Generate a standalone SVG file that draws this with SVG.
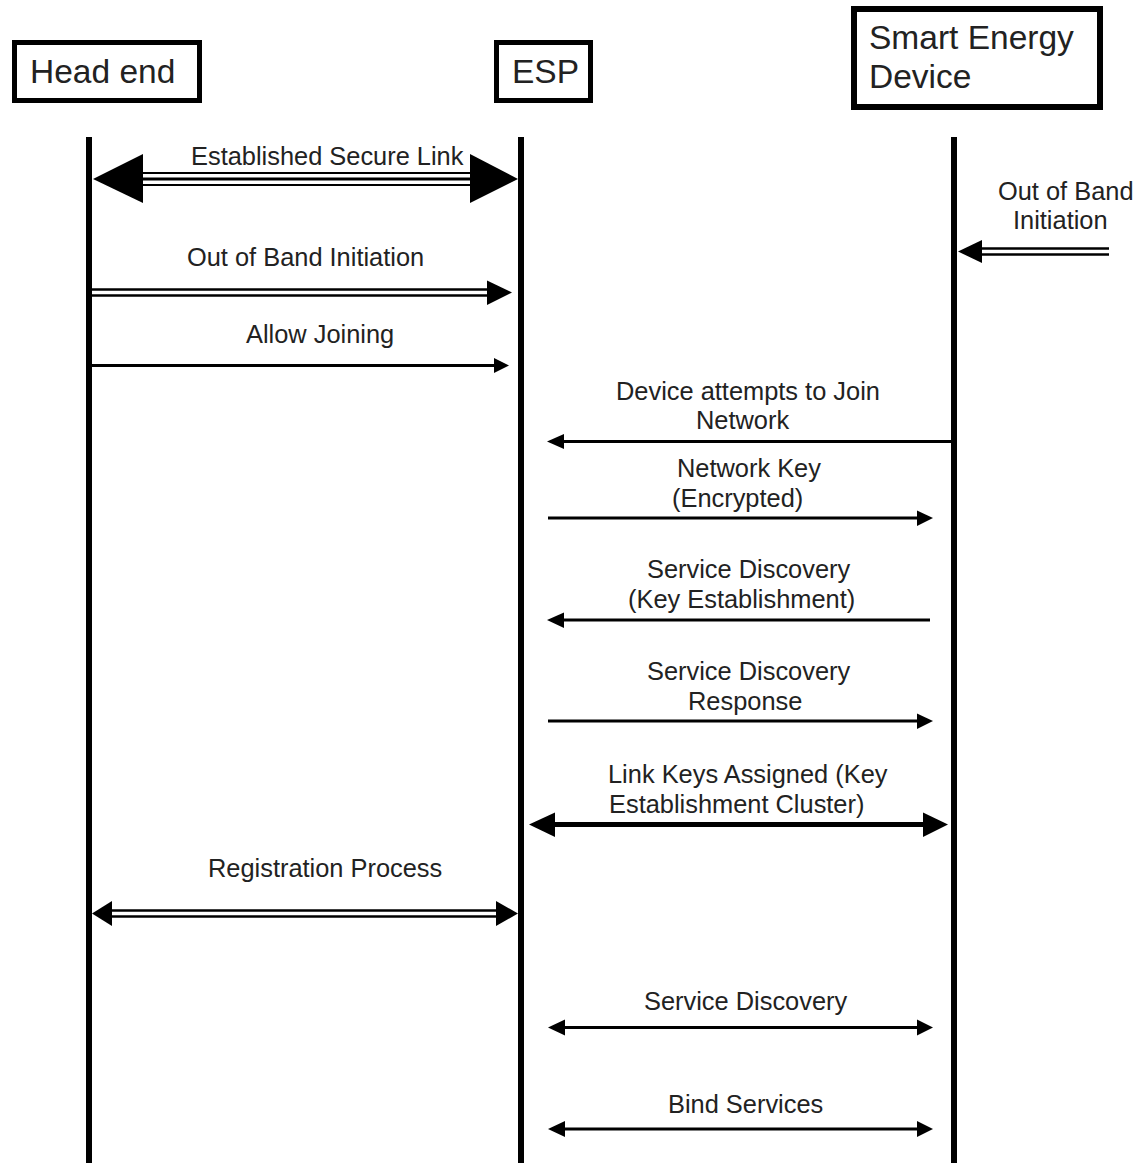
<svg xmlns="http://www.w3.org/2000/svg" width="1137" height="1163" viewBox="0 0 1137 1163">
<style>
text{font-family:"Liberation Sans",Arial,sans-serif;fill:#222}
.h{font-size:33.5px}
.l{font-size:25.4px}
.box{fill:#fff;stroke:#000}
.life{stroke:#000;stroke-width:6}
.ln{stroke:#000;fill:none}
.hd{fill:#000}
</style>
<rect width="1137" height="1163" fill="#fff"/>
<g id="head-end">
<rect class="box" x="14.5" y="42.5" width="185" height="58" stroke-width="5"/>
<text class="h" x="30" y="83">Head end</text>
<line class="life" x1="89" y1="137" x2="89" y2="1163"/>
</g>
<g id="esp">
<rect class="box" x="496.5" y="42.5" width="94" height="58" stroke-width="5"/>
<text class="h" x="512" y="83">ESP</text>
<line class="life" x1="521" y1="137" x2="521" y2="1163"/>
</g>
<g id="smart-energy-device">
<rect class="box" x="854" y="9" width="246" height="98" stroke-width="6"/>
<text class="h" x="869" y="49">Smart Energy</text>
<text class="h" x="869" y="88">Device</text>
<line class="life" x1="954" y1="137" x2="954" y2="1163"/>
</g>
<g id="connectors">
<!-- Established Secure Link -->
<line class="ln" x1="143" y1="173" x2="470" y2="173" stroke-width="2"/>
<line class="ln" x1="143" y1="179" x2="470" y2="179" stroke-width="3"/>
<line class="ln" x1="143" y1="185" x2="470" y2="185" stroke-width="2"/>
<polygon class="hd" points="93,179 143,154 143,203"/>
<polygon class="hd" points="518,179 470,154 470,203"/>
<text class="l" x="191" y="165">Established Secure Link</text>
<!-- Out of Band Initiation (head end) -->
<line class="ln" x1="92" y1="289.5" x2="490" y2="289.5" stroke-width="2.5"/>
<line class="ln" x1="92" y1="295.5" x2="490" y2="295.5" stroke-width="2.5"/>
<polygon class="hd" points="512,292.5 487,280.5 487,305"/>
<text class="l" x="187" y="266">Out of Band Initiation</text>
<!-- Allow Joining -->
<line class="ln" x1="92" y1="365.5" x2="496" y2="365.5" stroke-width="3"/>
<polygon class="hd" points="509,365.5 494,358 494,373"/>
<text class="l" x="246" y="343">Allow Joining</text>
<!-- Out of Band Initiation (SED) -->
<line class="ln" x1="980" y1="248.5" x2="1109" y2="248.5" stroke-width="2.5"/>
<line class="ln" x1="980" y1="254.5" x2="1109" y2="254.5" stroke-width="2.5"/>
<polygon class="hd" points="958,251.5 982,240 982,263"/>
<text class="l" x="998" y="200">Out of Band</text>
<text class="l" x="1013" y="229">Initiation</text>
<!-- Device attempts to Join Network -->
<line class="ln" x1="562" y1="441.5" x2="952" y2="441.5" stroke-width="3"/>
<polygon class="hd" points="547,441.5 564,434 564,449"/>
<text class="l" x="616" y="400">Device attempts to Join</text>
<text class="l" x="696" y="429">Network</text>
<!-- Network Key (Encrypted) -->
<line class="ln" x1="548" y1="518" x2="919" y2="518" stroke-width="3"/>
<polygon class="hd" points="933,518 917,510.5 917,526"/>
<text class="l" x="677" y="477">Network Key</text>
<text class="l" x="672" y="507">(Encrypted)</text>
<!-- Service Discovery (Key Establishment) -->
<line class="ln" x1="562" y1="620" x2="930" y2="620" stroke-width="3"/>
<polygon class="hd" points="547,620 564,612.5 564,628"/>
<text class="l" x="647" y="578">Service Discovery</text>
<text class="l" x="628" y="608">(Key Establishment)</text>
<!-- Service Discovery Response -->
<line class="ln" x1="548" y1="721" x2="919" y2="721" stroke-width="3"/>
<polygon class="hd" points="933,721 917,713.5 917,729"/>
<text class="l" x="647" y="680">Service Discovery</text>
<text class="l" x="688" y="710">Response</text>
<!-- Link Keys Assigned -->
<line class="ln" x1="550" y1="824.5" x2="928" y2="824.5" stroke-width="5"/>
<polygon class="hd" points="529,824.5 555,812.5 555,837"/>
<polygon class="hd" points="948,824.5 923,812.5 923,837"/>
<text class="l" x="608" y="783">Link Keys Assigned (Key</text>
<text class="l" x="609" y="813">Establishment Cluster)</text>
<!-- Registration Process -->
<line class="ln" x1="108" y1="910.5" x2="500" y2="910.5" stroke-width="2.5"/>
<line class="ln" x1="108" y1="916.5" x2="500" y2="916.5" stroke-width="2.5"/>
<polygon class="hd" points="92,913.5 112,901 112,926"/>
<polygon class="hd" points="518,913.5 496,901 496,926"/>
<text class="l" x="208" y="877">Registration Process</text>
<!-- Service Discovery -->
<line class="ln" x1="560" y1="1027.5" x2="920" y2="1027.5" stroke-width="3"/>
<polygon class="hd" points="548,1027.5 565,1019.5 565,1035.5"/>
<polygon class="hd" points="933,1027.5 917,1019.5 917,1035.5"/>
<text class="l" x="644" y="1010">Service Discovery</text>
<!-- Bind Services -->
<line class="ln" x1="560" y1="1129" x2="920" y2="1129" stroke-width="3"/>
<polygon class="hd" points="548,1129 565,1121 565,1137"/>
<polygon class="hd" points="933,1129 917,1121 917,1137"/>
<text class="l" x="668" y="1113">Bind Services</text>
</g>
</svg>
